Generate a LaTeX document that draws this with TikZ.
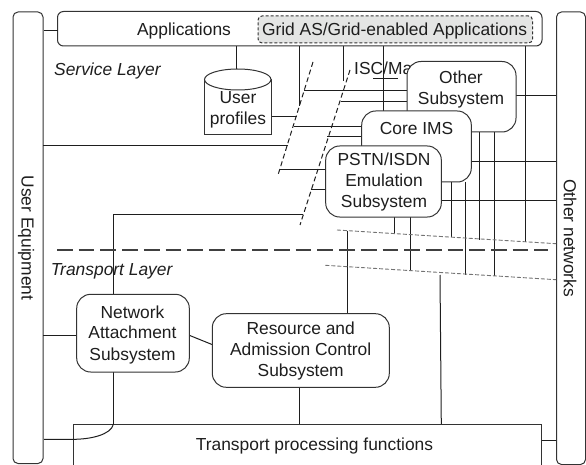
\documentclass[tikz,border=0pt]{standalone}
\usepackage{fontspec}
\setmainfont{Liberation Sans}
\definecolor{ink}{HTML}{1E1E1E}
\definecolor{edge}{HTML}{333333}
\definecolor{gridfill}{HTML}{E4E5E4}
\tikzset{
  x=1pt,y=-1pt,
  conn/.style={draw=ink,line width=1pt},
  sysbox/.style={draw=edge,line width=1pt,fill=white,rounded corners=14pt},
  bar/.style={draw=edge,line width=1pt,fill=white,rounded corners=5pt},
  lbl/.style={inner sep=0pt,font=\fontsize{17.4}{21}\selectfont,text=ink,align=center},
  layerlbl/.style={inner sep=0pt,font=\fontsize{17.4}{21}\selectfont\itshape,text=ink,anchor=west},
  slant/.style={draw=ink,line width=1pt,dash pattern=on 5pt off 3pt},
  thin cut/.style={draw=gray!90!black,line width=.9pt,dash pattern=on 4pt off 2pt},
}
\begin{document}
\begin{tikzpicture}
\useasboundingbox (0,0) rectangle (586,465);
% anchor coordinates
\coordinate (a1) at (299.3,46); \coordinate (a1e) at (299.3,106);
\coordinate (a2) at (343.7,46); \coordinate (a2e) at (343.7,81);
\coordinate (a3) at (383.3,46); \coordinate (a3e) at (383.3,112);
\coordinate (a4) at (525.5,46); \coordinate (a4e) at (525.5,242);
\coordinate (d1a) at (313,62); \coordinate (d1b) at (278,175);
\coordinate (d2a) at (350,70); \coordinate (d2b) at (300,225);
\coordinate (up1) at (337,230); \coordinate (up2) at (556,243.7);
\coordinate (lo1) at (325.3,265.3); \coordinate (lo2) at (556,279.7);
\coordinate (th1) at (57,250.3); \coordinate (th2) at (548,250.3);

% side bars and boxes with lines behind
\node[bar,minimum width=30pt,minimum height=451.5pt,anchor=north west] (ue) at (12.5,11.5) {};
\node[bar,minimum width=29pt,minimum height=452.5pt,anchor=north west] (on) at (556,11.5) {};
\node[lbl,rotate=-90] (uet) at (26,238) {User Equipment};
\node[lbl,rotate=-90] (ont) at (570,238) {Other networks};

% connectors
\draw[conn] (a1) -- (a1e);
\draw[conn] (a2) -- (a2e);
\draw[conn] (a3) -- (a3e);
\draw[conn] (a4) -- (a4e);
\draw[conn] (236.5,46) -- (236.5,69);
\draw[conn] (271,116.5) -- (296.5,116.5);
\draw[conn] (43,145.5) -- (288,145.5);
\draw[conn] (304,91) -- (408,91);
\draw[conn] (340.7,101.7) -- (408,101.7);
\draw[conn] (294,126.7) -- (362,126.7);
\draw[conn] (327,136.7) -- (362,136.7);
\draw[conn] (280,170) -- (326,170);
\draw[conn] (310.5,190) -- (326,190);
\draw[conn] (303,214.3) -- (113.5,214.3) -- (113.5,295);
\draw[conn] (516,96) -- (556,96);
\draw[conn] (471,161.3) -- (556,161.3);
\draw[conn] (441,200.3) -- (556,200.3);
\draw[conn] (479,132) -- (479,240);
\draw[conn] (494.3,132) -- (494.3,275.7);
\draw[conn] (451.7,182) -- (451.7,236.5);
\draw[conn] (465.5,182) -- (465.5,275);
\draw[conn] (394.3,217) -- (394.3,234);
\draw[conn] (410.3,217) -- (410.3,270);
\draw[conn] (347.3,230.7) -- (347.3,314);
\draw[conn] (440,275) -- (441.3,424.5);
\draw[conn] (373,78.5) -- (398,78.5);

\draw[slant] (d1a) -- (d1b);
\draw[slant] (d2a) -- (d2b);
\draw[thin cut] (up1) -- (up2);
\draw[thin cut] (lo1) -- (lo2);
\draw[draw=ink!85,line width=2pt,dash pattern=on 15.7pt off 6pt] (th1) -- (th2);

% top application box
\draw[draw=edge,line width=1pt,fill=white,rounded corners=6pt] (57.5,11.5) rectangle (542,46);
\node[draw=edge,line width=1pt,dash pattern=on 3pt off 2pt,fill=gridfill,rounded corners=4pt,minimum width=274.5pt,minimum height=27pt,anchor=north west] (grid) at (257.5,15.5) {};
\node[lbl] (apt) at (184,31) {Applications};
\node[lbl] (gridt) at (394.5,31) {Grid AS/Grid-enabled Applications};
\draw[conn] (44,31) -- (57.5,31);

% user profiles cylinder
\draw[draw=edge,line width=1pt,fill=white] (204.5,79.5) -- (204.5,135) -- (271,135) -- (271,79.5);
\draw[draw=edge,line width=1pt,fill=white] (237.75,79.5) ellipse [x radius=33.25pt,y radius=10.5pt];
\node[lbl] (upt) at (238,110) {User\\profiles};

% layer labels
\node[layerlbl] (sl) at (54,71) {Service Layer};
\node[layerlbl] (tl) at (50.7,271) {Transport Layer};
\node[lbl,anchor=west] (isc) at (354,68) {ISC/Ma};

% subsystems
\draw[sysbox] (407,61.5) rectangle (516,132);
\node[lbl] (ot) at (461,90) {Other\\Subsystem};
\draw[sysbox] (361.7,111) rectangle (471.3,182);
\node[lbl] (ct) at (416.5,129) {Core IMS};
\draw[sysbox] (325.7,146) rectangle (441.3,217);
\node[lbl] (pt) at (384,182) {PSTN/ISDN\\Emulation\\Subsystem};

% transport stratum
\draw[conn] (43,335.3) -- (76.7,335.3);
\draw[conn] (189.3,335.3) -- (212.5,344.7);
\draw[conn] (113.5,372) -- (113.5,424);
\draw[conn] (299.3,387) -- (299.3,424.5);
\draw[sysbox] (76.7,294.3) rectangle (189.3,372);
\node[lbl] (nt) at (132.5,334.5) {Network\\Attachment\\Subsystem};
\draw[sysbox] (212.3,313.7) rectangle (389.3,387.3);
\node[lbl] (rt) at (300.7,351) {Resource and\\Admission Control\\Subsystem};
\draw[draw=edge,line width=1pt] (73.3,466) -- (73.3,424.3) -- (541.7,424.3) -- (541.7,466);
\node[lbl] (tpt) at (314.5,446) {Transport processing functions};
\draw[conn] (113.5,424) .. controls (111,435) and (90,439.3) .. (73.3,439.3) -- (44,439.3);
\draw[conn] (541.7,440) -- (556,440);
\end{tikzpicture}
\end{document}
